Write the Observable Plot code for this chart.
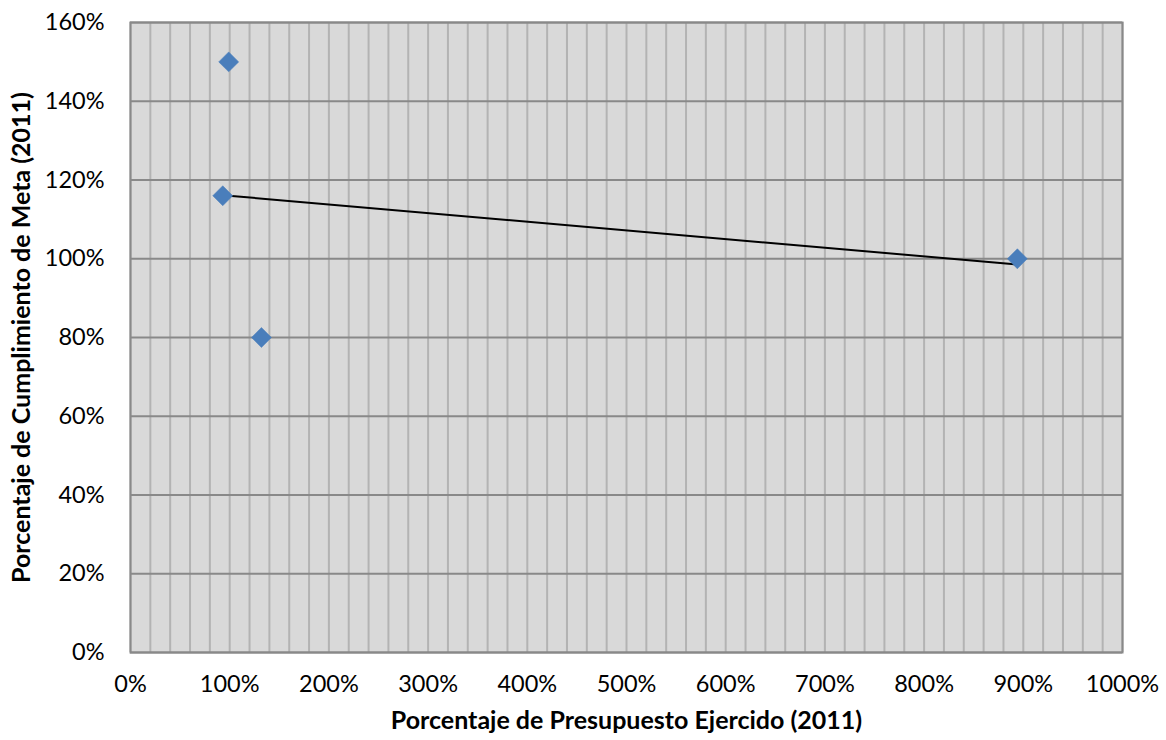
<!DOCTYPE html>
<html>
<head>
<meta charset="utf-8">
<script src="https://cdn.jsdelivr.net/npm/d3@7"></script>
<script src="https://cdn.jsdelivr.net/npm/@observablehq/plot@0.6"></script>
<style>
  html, body { margin: 0; padding: 0; background: #fff; }
  #chart svg { display: block; }
</style>
</head>
<body>
<div id="chart"></div>
<script>
// Data (fractions: 1 = 100%)
const presupuestoEjercido = [0.99, 0.93, 1.32, 8.94];
const cumplimientoMeta   = [1.50, 1.16, 0.80, 1.00];
const xTicks = [0, 1, 2, 3, 4, 5, 6, 7, 8, 9, 10];
const yTicks = [0, 0.2, 0.4, 0.6, 0.8, 1.0, 1.2, 1.4, 1.6];
const xMinorGrid = d3.range(0, 51).map(i => i / 5);
const xLabel = "Porcentaje de Presupuesto Ejercido (2011)";
const yLabel = "Porcentaje de Cumplimiento de Meta (2011)";

const data = presupuestoEjercido.map((x, i) => ({x, y: cumplimientoMeta[i]}));
const pct = d => Math.round(d * 100) + "%";

const chart = Plot.plot({
  width: 1166,
  height: 740,
  marginLeft: 130,
  marginRight: 44,
  marginTop: 22,
  marginBottom: 88,
  style: {fontFamily: "Lato, 'Open Sans', sans-serif", fontSize: "23.5px", color: "#000", background: "#fff"},
  x: {domain: [0, 10], ticks: xTicks, tickFormat: pct},
  y: {domain: [0, 1.6], ticks: yTicks, tickFormat: pct},
  marks: [
    Plot.frame({fill: "#d9d9d9", stroke: null}),
    Plot.gridX(xMinorGrid, {stroke: "#b3b3b3", strokeOpacity: 1, strokeWidth: 2}),
    Plot.gridY(yTicks, {stroke: "#898989", strokeOpacity: 1, strokeWidth: 2}),
    Plot.frame({stroke: "#898989", strokeWidth: 2}),
    Plot.axisX(xTicks, {tickSize: 0, tickPadding: 23, tickFormat: pct, fontSize: 23.5,
      label: xLabel, labelAnchor: "center", labelArrow: "none", labelOffset: 76}),
    Plot.axisY(yTicks, {tickSize: 0, tickPadding: 26, tickFormat: pct, fontSize: 23.5,
      label: yLabel, labelAnchor: "center", labelArrow: "none", labelOffset: 118}),
    Plot.linearRegressionY(data, {x: "x", y: "y", stroke: "#000", strokeWidth: 2, ci: 0}),
    Plot.dot(data, {x: "x", y: "y", symbol: "diamond2", r: 9, fill: "#4a7ebb", stroke: "#4a7ebb", strokeWidth: 0.5})
  ]
});

// bold axis titles
d3.select(chart).selectAll("g[aria-label='x-axis label'] text, g[aria-label='y-axis label'] text")
  .style("font-weight", "bold").style("font-size", "25px");

document.getElementById("chart").appendChild(chart);
</script>
</body>
</html>
